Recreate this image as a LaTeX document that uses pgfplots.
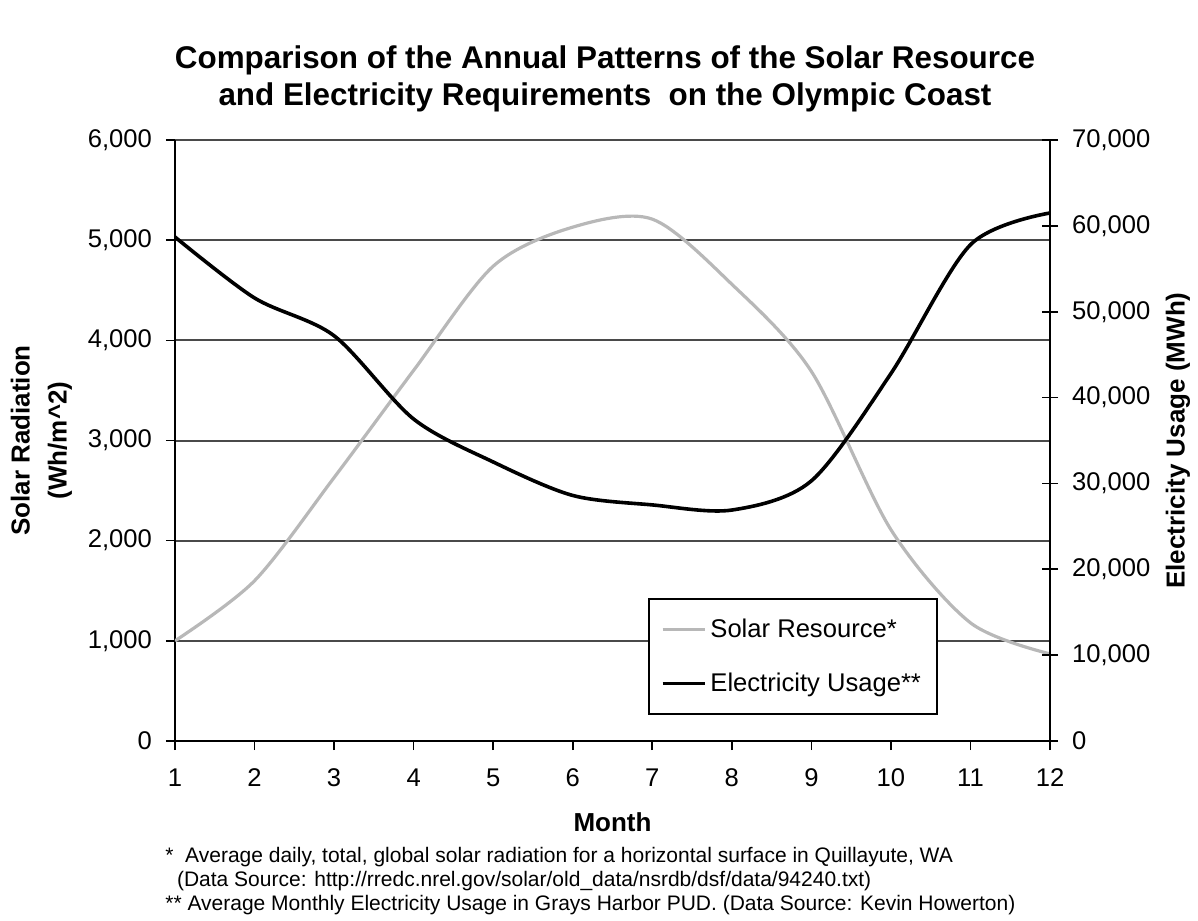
\documentclass[border=0pt]{standalone}
\usepackage{pgfplots}
\pgfplotsset{compat=1.18}
\usepackage{fontspec}
\setmainfont{Liberation Sans}

\definecolor{solargray}{HTML}{B8B8B8}
\definecolor{gridgray}{HTML}{4A4A4A}

\pgfplotsset{
  common/.style={
    scale only axis,
    width=437.5pt, height=300.5pt,
    xmin=1, xmax=12,
    tick style={black, line width=0.8pt},
    axis line style={black, line width=0.9pt},
    tick label style={font=\fontsize{12.8}{14}\selectfont},
    label style={font=\bfseries\fontsize{13}{18.5}\selectfont},
    /pgf/number format/assume math mode=true,
    /pgf/number format/1000 sep={,},
    scaled y ticks=false,
  },
}

\begin{document}
\begin{tikzpicture}
\useasboundingbox (-87.5pt,-89.5pt) rectangle (511.5pt,370.5pt);

\begin{axis}[
  common,
  ymin=0, ymax=6000,
  xtick={1,...,12},
  ytick={0,1000,...,6000},
  axis x line*=bottom,
  axis y line*=left,
  tick align=outside,
  major tick length=4.5pt,
  ymajorgrids,
  grid style={gridgray, line width=1pt},
  xticklabel style={text height=9.2pt, text depth=0pt, yshift=-5.7pt},
  yticklabel style={xshift=-3.5pt},
  xlabel={Month},
  xlabel style={at={(axis description cs:0.5,-0.1348)}, anchor=center},
  ylabel={Solar Radiation\\(Wh/m\^{}2)},
  ylabel style={at={(axis description cs:-0.1526,0.5)}, anchor=center, align=center},
]
\addplot[solargray, line width=1.6pt, smooth] coordinates {
  (1,1000) (2,1600) (3,2630) (4,3700) (5,4740) (6,5130)
  (7,5210) (8,4560) (9,3690) (10,2110) (11,1180) (12,870)
};
\end{axis}

\begin{axis}[
  common,
  ymin=0, ymax=70000,
  ytick={0,10000,...,70000},
  axis y line*=right,
  axis x line=none,
  tick align=center,
  major tick length=8pt,
  yticklabel style={xshift=3.5pt},
  ylabel={Electricity Usage (MWh)},
  ylabel style={at={(axis description cs:1.1463,0.5)}, anchor=center},
  legend style={
    at={(rel axis cs:0.5406,0.0433)}, anchor=south west,
    draw=black, line width=0.8pt,
    font=\fontsize{12.8}{14}\selectfont,
    row sep=12pt,
    inner xsep=6pt, inner ysep=8pt,
    legend cell align=left,
  },
  legend image code/.code={\draw[#1] (0pt,0pt) -- (21pt,0pt);},
]
\addlegendimage{solargray, line width=1.6pt}
\addlegendentry{Solar Resource*}
\addplot[black, line width=1.8pt, smooth] coordinates {
  (1,58700) (2,51600) (3,47200) (4,37500) (5,32500) (6,28600)
  (7,27500) (8,26900) (9,30300) (10,42800) (11,57800) (12,61500)
};
\addlegendentry{Electricity Usage**}
\end{axis}

% title
\node[align=center, font=\bfseries\fontsize{15.7}{18.5}\selectfont]
  at (215pt,331pt)
  {Comparison of the Annual Patterns of the Solar Resource\\
   and Electricity Requirements\ \ on the Olympic Coast};

% footnotes
\node[anchor=north west, align=left, inner sep=0pt,
      font=\fontsize{10.5}{12}\selectfont]
  at (-5pt,-53pt)
  {*\ \ Average daily, total, global solar radiation for a horizontal surface in Quillayute, WA\\
   \ \ (Data Source: http://rredc.nrel.gov/solar/old\_data/nsrdb/dsf/data/94240.txt)\\
   ** Average Monthly Electricity Usage in Grays Harbor PUD. (Data Source: Kevin Howerton)};
\end{tikzpicture}
\end{document}
